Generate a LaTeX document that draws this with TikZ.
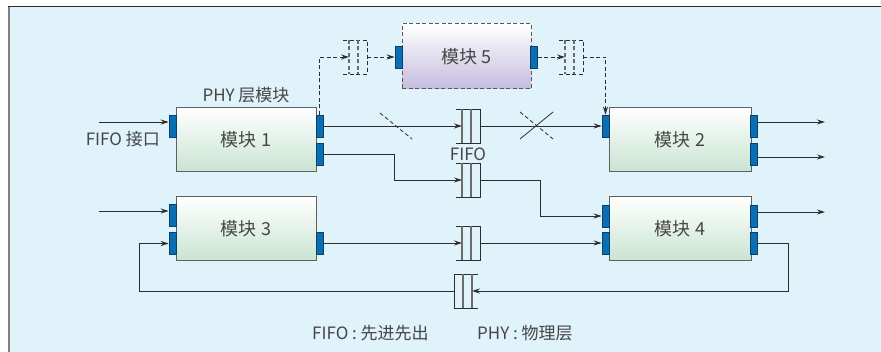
\documentclass[tikz,border=0pt]{standalone}
\usepackage{fontspec}
\setmainfont{Noto Sans CJK SC}
\usetikzlibrary{arrows.meta, positioning, calc}
\definecolor{bgblue}{RGB}{224,242,250}
\definecolor{portblue}{RGB}{10,110,180}
\definecolor{modgreen}{RGB}{200,228,210}
\definecolor{modlilac}{RGB}{196,188,222}
\definecolor{txtgray}{RGB}{70,70,70}
\definecolor{linedark}{RGB}{45,45,45}

\tikzset{
  fifoline/.style={line width=0.9pt,draw=linedark},
  fifomid/.style={line width=1.1pt,draw=gray!85!black},
  fifo/.pic={
    \draw[fifoline] (-12,-17) -- (12,-17) -- (12,17) -- (-12,17);
    \draw[fifomid] (-6,-17) -- (-6,17) (3,-17) -- (3,17);
    \coordinate (-in) at (-6,0);
    \coordinate (-out) at (12,0);
  },
  fiforev/.pic={
    \draw[fifoline] (12,-17) -- (-12,-17) -- (-12,17) -- (12,17);
    \draw[fifomid] (-3,-17) -- (-3,17) (6,-17) -- (6,17);
    \coordinate (-in) at (6,0);
    \coordinate (-out) at (-12,0);
  }
}

\begin{document}
\begin{tikzpicture}[x=1pt,y=-1pt,
    module/.style={draw=gray!75!black,line width=1pt,top color=white,bottom color=modgreen,
                   minimum width=140pt,minimum height=64pt,inner sep=0pt,
                   font=\fontsize{18}{20}\selectfont,text=txtgray},
    port/.style={draw=portblue!60!black,fill=portblue,line width=0.6pt,
                 minimum width=7pt,minimum height=22pt,inner sep=0pt},
    arr/.style={-{Stealth[length=8pt,width=5pt]},line width=0.9pt,draw=linedark},
    dsh/.style={dash pattern=on 4pt off 2.5pt},
    darr/.style={arr,dsh},
    lbl/.style={font=\fontsize{17}{19}\selectfont,text=txtgray,inner sep=0pt}
]
  \useasboundingbox (0,0) rectangle (881,352);

  % Frame
  \fill[bgblue] (8,7) rectangle (881,352);
  \draw[gray,line width=2pt] (9,7) -- (9,352);
  \draw[linedark,line width=1pt] (8,7) -- (881,7);

  % Modules
  \node[module] (m1) at (246,140) {模块\ 1};
  \node[module,minimum width=142pt] (m2) at (680,140) {模块\ 2};
  \node[module] (m3) at (246,229) {模块\ 3};
  \node[module,minimum width=142pt] (m4) at (680,229) {模块\ 4};
  \node[module,draw=gray!70!black,dsh,bottom color=modlilac,
        minimum width=129pt,minimum height=65pt] (m5) at (466.5,56.5) {模块\ 5};

  % Ports
  \node[port] (m1in) at (172.5,126) {};
  \node[port] (m1o1) at (319.5,126) {};
  \node[port] (m1o2) at (319.5,154) {};
  \node[port] (m2in) at (605.5,126) {};
  \node[port] (m2o1) at (754,126) {};
  \node[port] (m2o2) at (754,154) {};
  \node[port] (m3i1) at (172.5,215.5) {};
  \node[port] (m3i2) at (172.5,243.5) {};
  \node[port] (m3o) at (319.5,243) {};
  \node[port] (m4i1) at (605.5,216) {};
  \node[port] (m4i2) at (605.5,243.5) {};
  \node[port] (m4o1) at (754,216) {};
  \node[port] (m4o2) at (754,243.5) {};
  \node[port] (m5in) at (398.5,57) {};
  \node[port] (m5o) at (534,57) {};

  % FIFOs
  \pic (f1) at (468,126) {fifo};
  \pic (f2) at (468,180) {fifo};
  \pic (f3) at (468,243) {fifo};
  \pic (f4) at (466,291) {fiforev};
  \pic[dsh] (f5) at (355,57) {fifo};
  \pic[dsh] (f6) at (571,57) {fifo};

  % Labels
  \node[lbl] (phy) at (246,95) {PHY 层模块};
  \node[lbl,anchor=east] (fifoif) at (160,139) {FIFO 接口};
  \node[lbl] (fifotxt) at (468,154) {FIFO};
  \node[lbl,anchor=west] (note1) at (312,333) {FIFO\ :\ 先进先出};
  \node[lbl,anchor=west] (note2) at (477,333) {PHY\ :\ 物理层};

  % Free ends
  \coordinate (in1) at (99,122);
  \coordinate (in3) at (99,211);
  \coordinate (out2a) at (825,122);
  \coordinate (out2b) at (825,157);
  \coordinate (out4) at (825,212);

  % Arrows
  \draw[arr] (in1) -- (in1 -| m1in.west);
  \draw[arr] (in3) -- (in3 -| m3i1.west);
  \draw[arr] (out2a -| m2o1.east) -- (out2a);
  \draw[arr] (out2b -| m2o2.east) -- (out2b);
  \draw[arr] (out4 -| m4o1.east) -- (out4);

  \draw[arr] (m1o1.east) -- (f1-in);
  \draw[arr] (f1-out) -- (m2in.west);
  \draw[arr] (m1o2.east) -- ++(71,0) |- (f2-in);
  \draw[arr] (f2-out) -- ++(60,0) |- (m4i1.west);
  \draw[arr] (m3o.east) -- (f3-in);
  \draw[arr] (f3-out) -- (f3-out -| m4i2.west);
  \draw[arr] (m4o2.east) -- ++(31,0) |- (f4-in);
  \draw[arr] (f4-out) -- ++(-315,0) |- (m3i2.west);

  % Dashed path through module 5
  \draw[darr] (m1o1.north) |- (f5-in);
  \draw[darr] (f5-out) -- (m5in.west);
  \draw[darr] (m5o.east) -- (f6-in);
  \draw[darr] (f6-out) -| (m2in.north);

  % Break marks
  \draw[linedark,line width=0.8pt,dsh] (380,113) -- (412,139);
  \draw[linedark,line width=0.8pt] (553,112) -- (520,139);
  \draw[linedark,line width=0.8pt,dsh] (520,112) -- (553,139);
\end{tikzpicture}
\end{document}
